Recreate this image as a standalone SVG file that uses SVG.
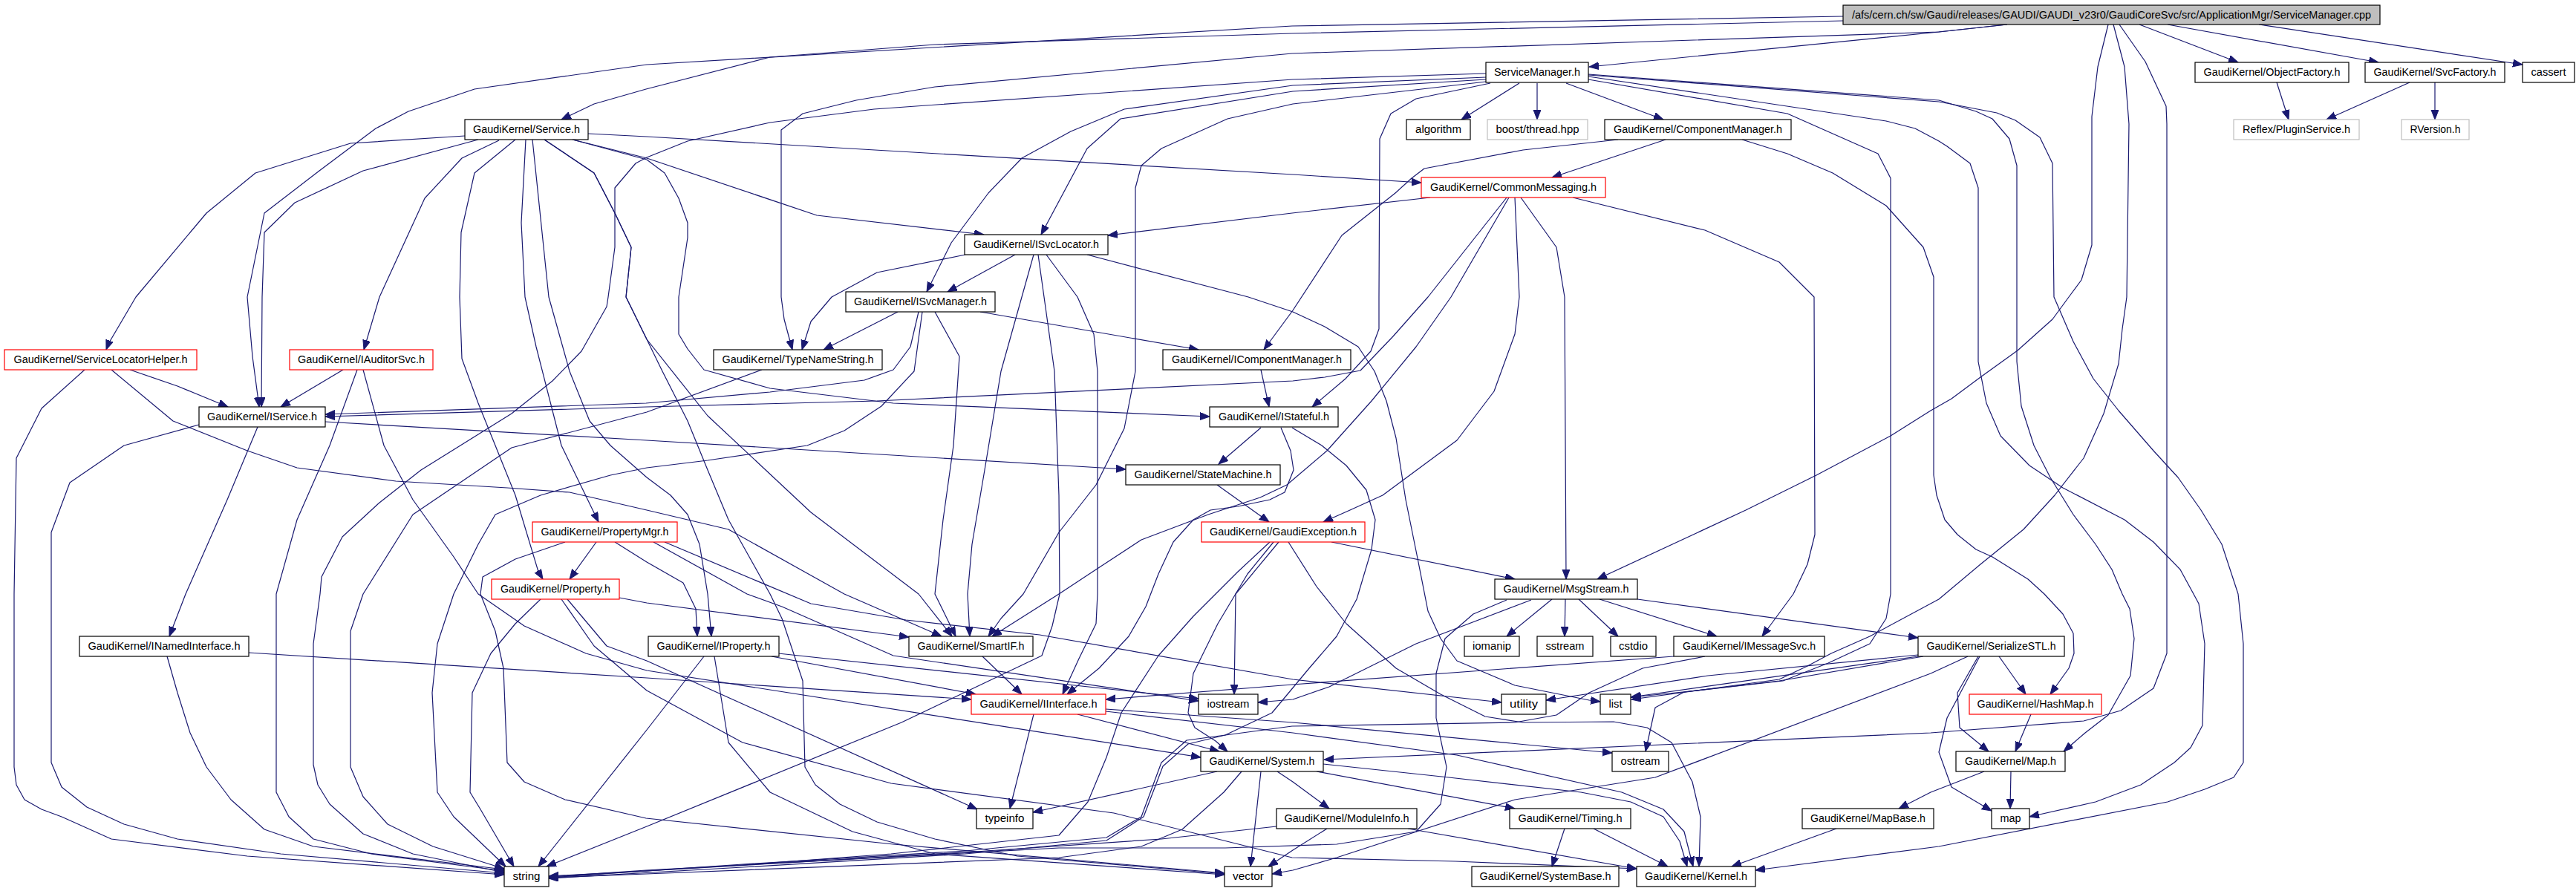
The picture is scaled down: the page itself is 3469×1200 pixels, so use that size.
<svg xmlns="http://www.w3.org/2000/svg" width="3469" height="1200" viewBox="0 0 3469 1200">
<defs>
<marker id="a" markerWidth="14" markerHeight="11" refX="13" refY="5" orient="auto" markerUnits="userSpaceOnUse"><path d="M0,0 L13,5 L0,10 z" fill="#191970" stroke="#191970" stroke-width="1"/></marker>
<style>
.n rect{fill:#fff;stroke:#000;stroke-width:1.2}
.n.r rect{stroke:#ff0000}
.n.g rect{stroke:#bfbfbf}
.n.t rect{fill:#bfbfbf}
.n text{font-family:"Liberation Sans",Arial,sans-serif;font-size:14px;fill:#000;text-anchor:middle}
#edges path{fill:none;stroke:#191970;stroke-width:1.2;stroke-linejoin:round;marker-end:url(#a)}
</style>
</defs>
<rect x="0" y="0" width="3469" height="1200" fill="#fff"/>
<g id="edges">
<path d="M2703,33 L2611,43 L2140,90"/>
<path d="M2703,33 L2611,43 L1740,72 L1259,117 L1153,135 L1081,153 L1052,175 L1052,400 L1056,430 L1067,471"/>
<path d="M2482,22 L1740,35 L871,87 L639,120 L550,150 L506,173 L430,230 L356,287 L333,400 L340,480 L349,548"/>
<path d="M2482,28 L1740,45 L1259,60 L1037,77 L870,120 L800,140 L756,161"/>
<path d="M2881,33 L3014,84"/>
<path d="M2919,33 L3203,84"/>
<path d="M3042,33 L3397,87"/>
<path d="M2839,33 L2825,90 L2817,157 L2817,330 L2803,377 L2786,400 L2764,430 L2717,472 L2667,508 L2628,537 L2600,553 L2546,587 L2446,640 L2351,687 L2151,780"/>
<path d="M2846,33 L2861,90 L2867,167 L2864,400 L2858,443 L2853,490 L2833,557 L2806,617 L2767,667 L2725,713 L2667,760 L2611,807 L2518,857 L2466,880 L2434,897 L2396,915 L2300,928 L2197,942"/>
<path d="M2854,33 L2889,83 L2917,143 L2918,167 L2918,880 L2900,927 L2856,957 L2806,971 L2600,987 L1783,1023"/>
<path d="M2046,112 L1968,161"/>
<path d="M2070,112 L2070,161"/>
<path d="M2109,112 L2240,161"/>
<path d="M2001,99 L1741,107 L1177,147 L1037,165 L926,190 L871,212 L856,220 L828,253 L828,333 L819,400 L817,413 L783,473 L744,513 L689,557 L567,633 L511,677 L461,723 L433,777 L431,800 L422,867 L422,1030 L428,1057 L444,1083 L489,1123 L556,1150 L679,1175"/>
<path d="M2001,104 L1741,115 L1514,147 L1442,177 L1376,213 L1331,260 L1281,327 L1248,393"/>
<path d="M2001,107 L1741,123 L1509,160 L1464,200 L1402,316"/>
<path d="M2001,110 L1741,140 L1653,160 L1564,200 L1537,223 L1529,253 L1529,500 L1514,577 L1476,653 L1426,717 L1378,800 L1348,833 L1331,857"/>
<path d="M2007,112 L1907,133 L1873,153 L1858,187 L1857,400 L1857,443 L1846,473 L1812,510 L1767,548"/>
<path d="M2139,107 L2407,153 L2529,207 L2546,240 L2546,800 L2540,833 L2518,867 L2462,893 L2401,917 L2266,932 L2197,939"/>
<path d="M2139,100 L2611,135 L2661,150 L2683,160 L2706,187 L2716,223 L2716,487 L2722,547 L2739,600 L2761,643 L2792,693 L2822,733 L2844,767 L2858,800 L2868,820 L2874,860 L2869,910 L2839,963 L2808,987 L2779,1012"/>
<path d="M2139,103 L2540,163 L2579,173 L2611,190 L2622,197 L2653,220 L2664,253 L2664,487 L2675,543 L2694,587 L2733,627 L2778,657 L2861,700 L2900,730 L2936,767 L2954,800 L2961,813 L2969,867 L2966,977 L2950,1007 L2928,1027 L2883,1057 L2822,1080 L2733,1100"/>
<path d="M2139,101 L2611,137 L2689,152 L2714,162 L2747,185 L2764,220 L2766,400 L2792,460 L2819,510 L2853,553 L2900,607 L2933,643 L2964,687 L2992,733 L3014,800 L3021,867 L3021,1027 L3008,1047 L2969,1063 L2919,1080 L2611,1140 L2364,1172"/>
<path d="M626,183 L472,193 L344,233 L278,287 L183,400 L146,463 L143,471"/>
<path d="M644,188 L489,230 L397,273 L356,313 L353,400 L352,548"/>
<path d="M672,189 L622,213 L572,267 L511,400 L490,471"/>
<path d="M694,188 L639,233 L621,313 L619,400 L622,483 L644,543 L667,600 L694,667 L725,770 L731,780"/>
<path d="M708,188 L702,300 L707,400 L722,467 L756,600 L806,703"/>
<path d="M717,188 L739,400 L767,500 L794,567 L822,600 L871,643 L903,667 L926,693 L942,733 L953,800 L958,857"/>
<path d="M733,188 L800,233 L828,287 L850,333 L843,400 L871,457 L953,560 L1092,690 L1237,800 L1282,857"/>
<path d="M733,188 L800,233 L828,287 L850,333 L843,400 L871,457 L892,500 L926,567 L953,633 L981,700 L1009,750 L1037,800 L1053,833 L1081,917 L1084,1033 L1098,1057 L1131,1083 L1181,1107 L1259,1130 L1370,1153 L1649,1177"/>
<path d="M771,188 L871,213 L1100,290 L1325,316"/>
<path d="M771,188 L871,215 L895,233 L914,267 L926,300 L926,320 L914,400 L914,450 L926,470 L948,498 L1037,523 L1203,543 L1629,561"/>
<path d="M792,180 L871,184 L1741,235 L1914,246"/>
<path d="M3066,111 L3082,161"/>
<path d="M3245,111 L3133,161"/>
<path d="M3279,111 L3279,161"/>
<path d="M2243,188 L2090,239"/>
<path d="M2179,188 L2051,202 L1918,227 L1901,240 L1879,260 L1807,317 L1741,418 L1702,471"/>
<path d="M2346,188 L2407,207 L2468,233 L2540,277 L2590,333 L2604,373 L2604,640 L2608,667 L2619,700 L2636,720 L2661,740 L2683,750 L2731,780 L2753,800 L2778,827 L2792,853 L2793,880 L2786,900 L2761,935"/>
<path d="M1926,266 L1740,287 L1492,317"/>
<path d="M2029,266 L1923,400 L1876,453 L1832,499 L1784,508 L1741,513 L1181,540 L871,548 L438,561"/>
<path d="M2032,266 L1954,400 L1907,467 L1847,540 L1787,607 L1733,653 L1697,670 L1627,693 L1537,727 L1476,767 L1426,800 L1336,857"/>
<path d="M2040,266 L2046,400 L2040,450 L2012,527 L1962,593 L1862,667 L1818,687 L1782,703"/>
<path d="M2048,266 L2096,333 L2107,400 L2109,780"/>
<path d="M2118,266 L2296,310 L2396,353 L2443,400 L2444,720 L2434,760 L2415,800 L2373,857"/>
<path d="M1300,343 L1181,367 L1120,400 L1092,433 L1080,471"/>
<path d="M1367,343 L1276,393"/>
<path d="M1392,343 L1376,400 L1348,500 L1326,633 L1309,733 L1303,800 L1306,857"/>
<path d="M1398,343 L1406,400 L1420,500 L1426,667 L1427,800 L1417,843 L1403,883 L1214,973 L871,1113 L736,1167"/>
<path d="M1409,343 L1451,400 L1473,450 L1478,500 L1478,800 L1476,840 L1453,887 L1431,935"/>
<path d="M1464,343 L1681,400 L1741,420 L1784,440 L1829,467 L1851,500 L1867,540 L1880,590 L1893,673 L1910,757 L1923,823 L1940,860 L1962,890 L2040,923 L2140,943 L2155,945"/>
<path d="M1209,420 L1109,471"/>
<path d="M1237,420 L1226,467 L1203,498 L1164,512 L1037,528 L870,543 L438,558"/>
<path d="M1320,420 L1614,471"/>
<path d="M1259,420 L1292,480 L1284,600 L1270,700 L1259,800 L1287,857"/>
<path d="M1242,420 L1231,500 L1187,547 L1137,580 L1087,600 L953,620 L871,630 L822,640 L728,667 L667,693 L644,733 L611,800 L589,867 L582,933 L589,1067 L611,1100 L681,1167"/>
<path d="M175,498 L239,520 L307,548"/>
<path d="M114,498 L56,550 L22,617 L19,800 L19,1033 L22,1057 L33,1077 L56,1090 L83,1100 L150,1130 L333,1153 L679,1178"/>
<path d="M150,498 L233,567 L333,607 L400,630 L533,648 L683,657 L767,663 L871,687 L981,713 L1137,800 L1268,857"/>
<path d="M462,498 L378,548"/>
<path d="M481,498 L444,600 L400,700 L372,800 L372,1067 L389,1100 L422,1130 L500,1150 L679,1173"/>
<path d="M489,498 L517,600 L556,673 L611,750 L644,800 L706,843 L789,880 L871,903 L1617,1020"/>
<path d="M347,575 L306,673 L250,800 L228,857"/>
<path d="M268,572 L167,600 L94,650 L69,717 L69,800 L69,1027 L83,1060 L117,1087 L167,1110 L239,1130 L378,1150 L679,1176"/>
<path d="M438,568 L871,593 L1516,632"/>
<path d="M1026,498 L871,555 L689,603 L556,693 L489,800 L472,850 L472,1033 L489,1073 L522,1110 L583,1140 L679,1170"/>
<path d="M1698,498 L1709,548"/>
<path d="M1698,576 L1641,625"/>
<path d="M1725,576 L1738,607 L1742,633 L1730,663 L1710,673 L1667,682 L1630,687 L1607,700 L1580,730 L1560,773 L1543,817 L1520,857 L1480,900 L1437,935"/>
<path d="M1740,576 L1780,600 L1813,627 L1840,660 L1852,700 L1847,740 L1827,807 L1800,857 L1763,900 L1713,960 L1650,990 L1600,1002 L1566,1032 L1540,1100 L1490,1132 L1300,1150 L1000,1168 L739,1183"/>
<path d="M1639,653 L1709,703"/>
<path d="M803,730 L767,780"/>
<path d="M828,730 L871,757 L920,785 L937,820 L939,857"/>
<path d="M761,730 L694,753 L650,777 L647,800 L667,850 L678,900 L683,1027 L706,1053 L761,1077 L870,1102 L1203,1137 L1649,1176"/>
<path d="M880,730 L1006,800 L1053,817 L1203,883 L1614,944"/>
<path d="M895,730 L1092,813 L1220,835 L1400,855 L1741,915 L2022,946"/>
<path d="M1793,730 L2040,780"/>
<path d="M1722,730 L1664,800 L1662,935"/>
<path d="M1715,730 L1680,773 L1640,840 L1607,907 L1600,960 L1609,980 L1637,998 L1653,1012"/>
<path d="M1710,730 L1667,770 L1607,830 L1560,883 L1510,960 L1490,1020 L1465,1080 L1426,1125 L1200,1150 L1000,1165 L739,1181"/>
<path d="M1735,730 L1773,790 L1813,840 L1880,900 L1940,935 L2000,965 L2051,973 L2173,972 L2218,980 L2251,1000 L2279,1053 L2290,1100 L2288,1167"/>
<path d="M834,805 L871,812 L1224,858"/>
<path d="M728,807 L694,840 L661,880 L636,933 L633,1067 L647,1090 L692,1167"/>
<path d="M764,807 L817,870 L871,890 L1316,1090"/>
<path d="M756,807 L800,870 L871,930 L1000,1000 L1200,1055 L1500,1095 L1740,1155 L1960,1160 L2204,1170"/>
<path d="M2090,807 L2029,857"/>
<path d="M2108,807 L2107,857"/>
<path d="M2126,807 L2179,857"/>
<path d="M2154,807 L2312,857"/>
<path d="M2205,807 L2583,859"/>
<path d="M2029,808 L1984,827 L1946,860 L1934,907 L1934,967 L1948,1033 L1940,1083 L1907,1120 L1800,1137 L1650,1142 L1426,1142 L870,1172 L739,1181"/>
<path d="M2062,808 L1907,867 L1790,925 L1741,942 L1694,946"/>
<path d="M335,879 L871,913 L1308,942"/>
<path d="M225,884 L239,933 L256,987 L278,1033 L311,1077 L356,1117 L422,1140 L679,1171"/>
<path d="M1039,884 L1314,935"/>
<path d="M1048,880 L1614,941"/>
<path d="M948,884 L871,983 L725,1167"/>
<path d="M962,884 L981,1000 L1037,1067 L1148,1120 L1259,1150 L1649,1178"/>
<path d="M1323,884 L1376,935"/>
<path d="M2254,884 L1740,922 L1489,942"/>
<path d="M2296,884 L2212,900 L2140,933 L2096,963 L2040,973 L1740,978 L1598,997 L1564,1027 L1537,1100 L1490,1128 L1300,1146 L1000,1164 L739,1182"/>
<path d="M2583,882 L2300,910 L2082,943"/>
<path d="M2583,884 L2196,939"/>
<path d="M2590,884 L2396,917 L2268,932 L2229,953 L2216,1012"/>
<path d="M2692,884 L2728,935"/>
<path d="M2664,884 L2636,933 L2639,980 L2678,1012"/>
<path d="M2666,884 L2622,967 L2611,1013 L2628,1060 L2682,1092"/>
<path d="M2650,884 L2600,907 L2229,1047 L2040,1077 L1800,1155 L1741,1172 L1713,1177"/>
<path d="M1392,962 L1360,1089"/>
<path d="M1451,962 L1642,1012"/>
<path d="M1489,955 L1741,973 L2171,1014"/>
<path d="M1489,958 L1741,987 L1962,1017 L2184,1067 L2240,1090 L2268,1120 L2280,1167"/>
<path d="M2735,962 L2714,1012"/>
<path d="M1639,1039 L1391,1094"/>
<path d="M1698,1039 L1684,1167"/>
<path d="M1672,1039 L1648,1067 L1592,1117 L1537,1140 L1426,1155 L870,1177 L739,1182"/>
<path d="M1720,1039 L1741,1053 L1790,1089"/>
<path d="M1773,1039 L2040,1089"/>
<path d="M1782,1029 L1951,1047 L2129,1067 L2196,1080 L2240,1100 L2262,1133 L2272,1167"/>
<path d="M2672,1039 L2600,1067 L2557,1089"/>
<path d="M2708,1039 L2707,1089"/>
<path d="M1787,1116 L1741,1145 L1708,1167"/>
<path d="M1719,1113 L1564,1130 L1314,1147 L870,1173 L739,1180"/>
<path d="M1896,1116 L2204,1170"/>
<path d="M2107,1116 L2090,1167"/>
<path d="M2146,1116 L2246,1167"/>
<path d="M2473,1116 L2332,1167"/>
</g>
<g id="n0" class="n t"><rect x="2482" y="7" width="723" height="26"/><text x="2843.5" y="25" textLength="699" lengthAdjust="spacingAndGlyphs">/afs/cern.ch/sw/Gaudi/releases/GAUDI/GAUDI_v23r0/GaudiCoreSvc/src/ApplicationMgr/ServiceManager.cpp</text></g>
<g id="n1" class="n"><rect x="2001" y="84" width="138" height="27"/><text x="2070" y="102" textLength="116" lengthAdjust="spacingAndGlyphs">ServiceManager.h</text></g>
<g id="n2" class="n"><rect x="626" y="161" width="166" height="27"/><text x="709" y="179" textLength="144" lengthAdjust="spacingAndGlyphs">GaudiKernel/Service.h</text></g>
<g id="n3" class="n"><rect x="2956" y="84" width="207" height="27"/><text x="3059.5" y="102" textLength="184" lengthAdjust="spacingAndGlyphs">GaudiKernel/ObjectFactory.h</text></g>
<g id="n4" class="n"><rect x="3185" y="84" width="188" height="27"/><text x="3279" y="102" textLength="165" lengthAdjust="spacingAndGlyphs">GaudiKernel/SvcFactory.h</text></g>
<g id="n5" class="n"><rect x="3397" y="84" width="70" height="27"/><text x="3432" y="102" textLength="47" lengthAdjust="spacingAndGlyphs">cassert</text></g>
<g id="n6" class="n"><rect x="1894" y="161" width="86" height="27"/><text x="1937" y="179" textLength="62" lengthAdjust="spacingAndGlyphs">algorithm</text></g>
<g id="n7" class="n g"><rect x="2003" y="161" width="135" height="27"/><text x="2070.5" y="179" textLength="112" lengthAdjust="spacingAndGlyphs">boost/thread.hpp</text></g>
<g id="n8" class="n"><rect x="2161" y="161" width="251" height="27"/><text x="2286.5" y="179" textLength="227" lengthAdjust="spacingAndGlyphs">GaudiKernel/ComponentManager.h</text></g>
<g id="n9" class="n r"><rect x="1914" y="239" width="248" height="27"/><text x="2038" y="257" textLength="224" lengthAdjust="spacingAndGlyphs">GaudiKernel/CommonMessaging.h</text></g>
<g id="n10" class="n g"><rect x="3008" y="161" width="169" height="27"/><text x="3092.5" y="179" textLength="145" lengthAdjust="spacingAndGlyphs">Reflex/PluginService.h</text></g>
<g id="n11" class="n g"><rect x="3234" y="161" width="91" height="27"/><text x="3279.5" y="179" textLength="68" lengthAdjust="spacingAndGlyphs">RVersion.h</text></g>
<g id="n12" class="n"><rect x="1299" y="316" width="193" height="27"/><text x="1395.5" y="334" textLength="169" lengthAdjust="spacingAndGlyphs">GaudiKernel/ISvcLocator.h</text></g>
<g id="n13" class="n"><rect x="1139" y="393" width="201" height="27"/><text x="1239.5" y="411" textLength="179" lengthAdjust="spacingAndGlyphs">GaudiKernel/ISvcManager.h</text></g>
<g id="n14" class="n r"><rect x="6" y="471" width="259" height="27"/><text x="135.5" y="489" textLength="234" lengthAdjust="spacingAndGlyphs">GaudiKernel/ServiceLocatorHelper.h</text></g>
<g id="n15" class="n r"><rect x="390" y="471" width="193" height="27"/><text x="486.5" y="489" textLength="171" lengthAdjust="spacingAndGlyphs">GaudiKernel/IAuditorSvc.h</text></g>
<g id="n16" class="n"><rect x="268" y="548" width="170" height="27"/><text x="353" y="566" textLength="148" lengthAdjust="spacingAndGlyphs">GaudiKernel/IService.h</text></g>
<g id="n17" class="n"><rect x="961" y="471" width="227" height="27"/><text x="1074.5" y="489" textLength="204" lengthAdjust="spacingAndGlyphs">GaudiKernel/TypeNameString.h</text></g>
<g id="n18" class="n"><rect x="1566" y="471" width="253" height="27"/><text x="1692.5" y="489" textLength="229" lengthAdjust="spacingAndGlyphs">GaudiKernel/IComponentManager.h</text></g>
<g id="n19" class="n"><rect x="1629" y="548" width="173" height="27"/><text x="1715.5" y="566" textLength="149" lengthAdjust="spacingAndGlyphs">GaudiKernel/IStateful.h</text></g>
<g id="n20" class="n"><rect x="1516" y="626" width="208" height="27"/><text x="1620" y="644" textLength="185" lengthAdjust="spacingAndGlyphs">GaudiKernel/StateMachine.h</text></g>
<g id="n21" class="n r"><rect x="717" y="703" width="195" height="27"/><text x="814.5" y="721" textLength="172" lengthAdjust="spacingAndGlyphs">GaudiKernel/PropertyMgr.h</text></g>
<g id="n22" class="n r"><rect x="1618" y="703" width="220" height="27"/><text x="1728" y="721" textLength="198" lengthAdjust="spacingAndGlyphs">GaudiKernel/GaudiException.h</text></g>
<g id="n23" class="n r"><rect x="662" y="780" width="172" height="27"/><text x="748" y="798" textLength="148" lengthAdjust="spacingAndGlyphs">GaudiKernel/Property.h</text></g>
<g id="n24" class="n"><rect x="2013" y="780" width="192" height="27"/><text x="2109" y="798" textLength="169" lengthAdjust="spacingAndGlyphs">GaudiKernel/MsgStream.h</text></g>
<g id="n25" class="n"><rect x="107" y="857" width="228" height="27"/><text x="221" y="875" textLength="205" lengthAdjust="spacingAndGlyphs">GaudiKernel/INamedInterface.h</text></g>
<g id="n26" class="n"><rect x="873" y="857" width="176" height="27"/><text x="961" y="875" textLength="153" lengthAdjust="spacingAndGlyphs">GaudiKernel/IProperty.h</text></g>
<g id="n27" class="n"><rect x="1224" y="857" width="167" height="27"/><text x="1307.5" y="875" textLength="144" lengthAdjust="spacingAndGlyphs">GaudiKernel/SmartIF.h</text></g>
<g id="n28" class="n"><rect x="1972" y="857" width="74" height="27"/><text x="2009" y="875" textLength="52" lengthAdjust="spacingAndGlyphs">iomanip</text></g>
<g id="n29" class="n"><rect x="2070" y="857" width="75" height="27"/><text x="2107.5" y="875" textLength="52" lengthAdjust="spacingAndGlyphs">sstream</text></g>
<g id="n30" class="n"><rect x="2169" y="857" width="61" height="27"/><text x="2199.5" y="875" textLength="39" lengthAdjust="spacingAndGlyphs">cstdio</text></g>
<g id="n31" class="n"><rect x="2254" y="857" width="203" height="27"/><text x="2355.5" y="875" textLength="179" lengthAdjust="spacingAndGlyphs">GaudiKernel/IMessageSvc.h</text></g>
<g id="n32" class="n"><rect x="2583" y="857" width="197" height="27"/><text x="2681.5" y="875" textLength="174" lengthAdjust="spacingAndGlyphs">GaudiKernel/SerializeSTL.h</text></g>
<g id="n33" class="n r"><rect x="1308" y="935" width="181" height="27"/><text x="1398.5" y="953" textLength="158" lengthAdjust="spacingAndGlyphs">GaudiKernel/IInterface.h</text></g>
<g id="n34" class="n"><rect x="1614" y="935" width="80" height="27"/><text x="1654" y="953" textLength="57" lengthAdjust="spacingAndGlyphs">iostream</text></g>
<g id="n35" class="n"><rect x="2022" y="935" width="60" height="27"/><text x="2052" y="953" textLength="38" lengthAdjust="spacingAndGlyphs">utility</text></g>
<g id="n36" class="n"><rect x="2155" y="935" width="41" height="27"/><text x="2175.5" y="953" textLength="18" lengthAdjust="spacingAndGlyphs">list</text></g>
<g id="n37" class="n r"><rect x="2652" y="935" width="178" height="27"/><text x="2741" y="953" textLength="157" lengthAdjust="spacingAndGlyphs">GaudiKernel/HashMap.h</text></g>
<g id="n38" class="n"><rect x="1617" y="1012" width="165" height="27"/><text x="1699.5" y="1030" textLength="142" lengthAdjust="spacingAndGlyphs">GaudiKernel/System.h</text></g>
<g id="n39" class="n"><rect x="2171" y="1012" width="76" height="27"/><text x="2209" y="1030" textLength="53" lengthAdjust="spacingAndGlyphs">ostream</text></g>
<g id="n40" class="n"><rect x="2634" y="1012" width="147" height="27"/><text x="2707.5" y="1030" textLength="123" lengthAdjust="spacingAndGlyphs">GaudiKernel/Map.h</text></g>
<g id="n41" class="n"><rect x="1315" y="1089" width="76" height="27"/><text x="1353" y="1107" textLength="53" lengthAdjust="spacingAndGlyphs">typeinfo</text></g>
<g id="n42" class="n"><rect x="1719" y="1089" width="189" height="27"/><text x="1813.5" y="1107" textLength="168" lengthAdjust="spacingAndGlyphs">GaudiKernel/ModuleInfo.h</text></g>
<g id="n43" class="n"><rect x="2033" y="1089" width="163" height="27"/><text x="2114.5" y="1107" textLength="140" lengthAdjust="spacingAndGlyphs">GaudiKernel/Timing.h</text></g>
<g id="n44" class="n"><rect x="2427" y="1089" width="177" height="27"/><text x="2515.5" y="1107" textLength="155" lengthAdjust="spacingAndGlyphs">GaudiKernel/MapBase.h</text></g>
<g id="n45" class="n"><rect x="2682" y="1089" width="51" height="27"/><text x="2707.5" y="1107" textLength="28" lengthAdjust="spacingAndGlyphs">map</text></g>
<g id="n46" class="n"><rect x="679" y="1167" width="60" height="27"/><text x="709" y="1185" textLength="37" lengthAdjust="spacingAndGlyphs">string</text></g>
<g id="n47" class="n"><rect x="1649" y="1167" width="64" height="27"/><text x="1681" y="1185" textLength="42" lengthAdjust="spacingAndGlyphs">vector</text></g>
<g id="n48" class="n"><rect x="1982" y="1167" width="198" height="27"/><text x="2081" y="1185" textLength="177" lengthAdjust="spacingAndGlyphs">GaudiKernel/SystemBase.h</text></g>
<g id="n49" class="n"><rect x="2204" y="1167" width="160" height="27"/><text x="2284" y="1185" textLength="138" lengthAdjust="spacingAndGlyphs">GaudiKernel/Kernel.h</text></g>
</svg>
